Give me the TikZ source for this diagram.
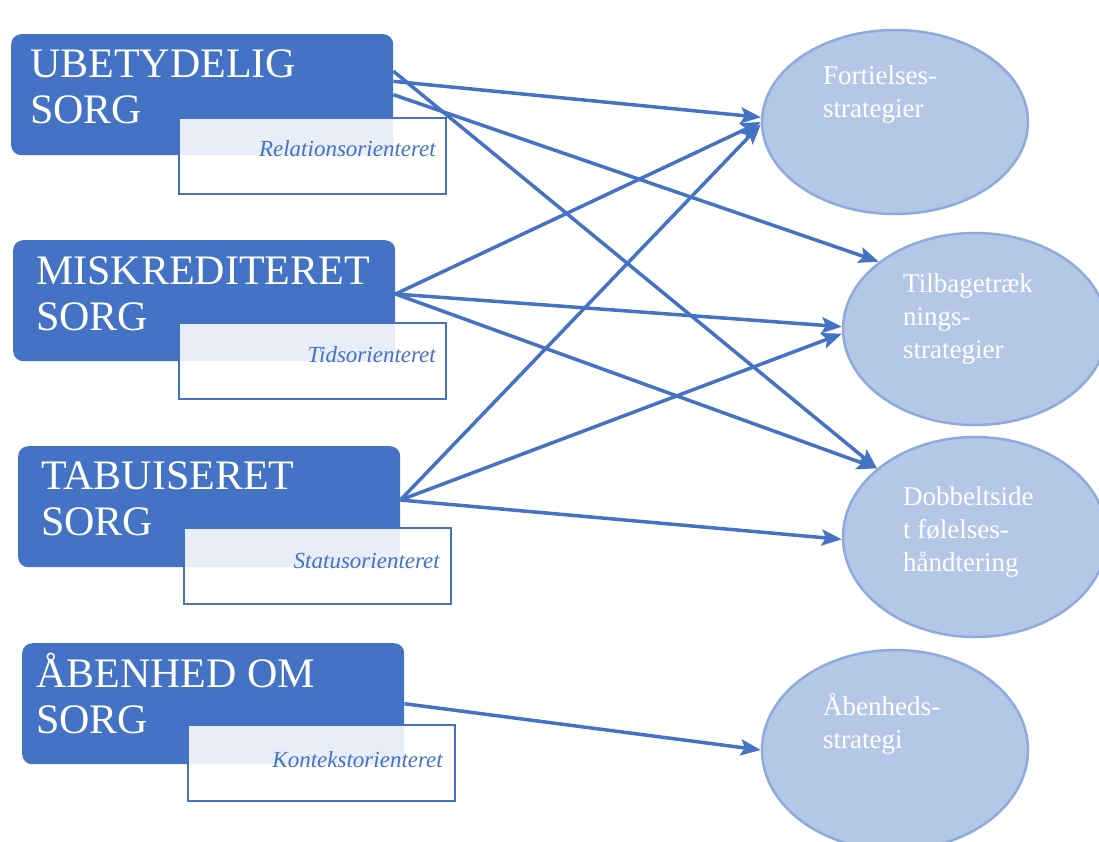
\documentclass[tikz,border=0pt]{standalone}
\usepackage{fontspec}
\setmainfont{Liberation Serif}
\usepackage{xcolor}
\usetikzlibrary{arrows.meta,shapes.geometric}
\definecolor{sorgblaa}{HTML}{4472C4}
\definecolor{stratfyld}{HTML}{B4C7E7}
\definecolor{stratkant}{HTML}{8FAADC}

\begin{document}
\begin{tikzpicture}[x=1pt,y=-1pt,>={Stealth[length=20pt,width=16pt,inset=4pt]},
sorg/.style={fill=sorgblaa,rounded corners=10pt,inner sep=0pt,anchor=north west,minimum width=382pt,minimum height=121pt},
sorgtxt/.style={text=white,align=left,anchor=base west,inner sep=0pt,font=\fontsize{42}{46}\selectfont},
orient/.style={draw=sorgblaa,line width=2pt,fill=white,fill opacity=0.88,inner sep=0pt,anchor=north west,minimum width=267pt,minimum height=76pt},
orienttxt/.style={text=sorgblaa,anchor=base east,inner sep=0pt,font=\fontsize{23}{26}\selectfont\itshape},
strat/.style={ellipse,fill=stratfyld,draw=stratkant,line width=2.5pt,inner sep=0pt},
strattxt/.style={text=white,align=left,anchor=base west,inner sep=0pt,font=\fontsize{27}{33}\selectfont},
pil/.style={->,draw=sorgblaa,line width=3.5pt}]
\useasboundingbox(0,0)rectangle(1099,841);
\clip(0,0)rectangle(1099,841);
\node[strat,minimum width=266pt,minimum height=184pt](fort)at(895,122){};
\node[strat,minimum width=264pt,minimum height=192pt](tilb)at(975,329){};
\node[strat,minimum width=264pt,minimum height=200pt](dobb)at(975,537){};
\node[strat,minimum width=266pt,minimum height=200pt](aabs)at(895,750){};
\node[strattxt](fort-txt)at(823,117){Fortielses-\\strategier};
\node[strattxt](tilb-txt)at(903,358){Tilbagetræk\\nings-\\strategier};
\node[strattxt](dobb-txt)at(903,571){Dobbeltside\\t følelses-\\håndtering};
\node[strattxt](aabs-txt)at(823,748){Åbenheds-\\strategi};
\node[sorg](ubet)at(11,34){};
\node[sorg](misk)at(13,240){};
\node[sorg](tabu)at(18,446){};
\node[sorg](aaben)at(22,643){};
\node[sorgtxt](ubet-txt)at(30,123){UBETYDELIG\\SORG};
\node[sorgtxt](misk-txt)at(36,330){MISKREDITERET\\SORG};
\node[sorgtxt](tabu-txt)at(41,535){TABUISERET\\SORG};
\node[sorgtxt](aaben-txt)at(36,733){ÅBENHED OM\\SORG};
\node[orient](rel)at(178,117){};
\node[orient](tid)at(178,322){};
\node[orient](sta)at(183,527){};
\node[orient](kon)at(187,724){};
\node[orienttxt](rel-txt)at(436,156){Relationsorienteret};
\node[orienttxt](tid-txt)at(436,362){Tidsorienteret};
\node[orienttxt](sta-txt)at(440,568){Statusorienteret};
\node[orienttxt](kon-txt)at(443,767){Kontekstorienteret};
\draw[pil](ubet.4)--(fort.178);
\draw[pil](ubet.east)--(tilb.145);
\draw[pil](ubet.7)--(dobb.145);
\draw[pil](misk.2)--(fort.west);
\draw[pil](misk.2)--(tilb.179);
\draw[pil](misk.2)--(dobb.145);
\draw[pil](tabu.2)--(fort.181);
\draw[pil](tabu.2)--(tilb.182);
\draw[pil](tabu.2)--(dobb.181);
\draw[pil](aaben.east)--(aabs.west);
\end{tikzpicture}
\end{document}
